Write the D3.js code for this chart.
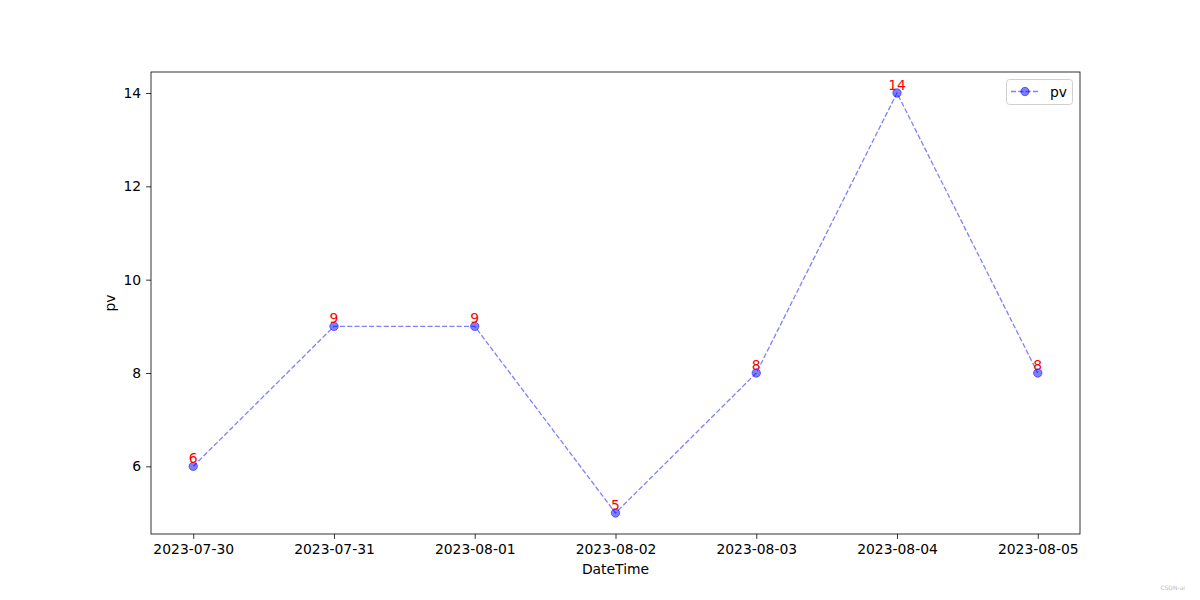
<!DOCTYPE html>
<html><head><meta charset="utf-8">
<script src="https://cdn.jsdelivr.net/npm/d3@7/dist/d3.min.js"></script>
<style>body{margin:0;background:#fff}svg{display:block}text{font-family:"DejaVu Sans",sans-serif}</style>
</head><body>
<svg id="c" width="1200" height="600"></svg>
<script>
const dates = ["2023-07-30","2023-07-31","2023-08-01","2023-08-02","2023-08-03","2023-08-04","2023-08-05"];
const pv = [6, 9, 9, 5, 8, 14, 8];
const yTicks = [6, 8, 10, 12, 14];
const seriesName = "pv";

const svg = d3.select("#c");
const L = 151, R = 1080, T = 72, B = 534;
const parse = d3.utcParse("%Y-%m-%d");
const xs = dates.map(parse);
const x0 = xs[0], x1 = xs[xs.length-1];
const span = x1 - x0;
const x = d3.scaleUtc().domain([new Date(+x0 - span*0.05), new Date(+x1 + span*0.05)]).range([L, R]);
const ymin = d3.min(pv), ymax = d3.max(pv), yr = ymax - ymin;
const y = d3.scaleLinear().domain([ymin - yr*0.05, ymax + yr*0.05]).range([B, T]);
const fs = 13.9;

// axes
const xa = svg.append("g").attr("transform", `translate(0,${B})`)
  .call(d3.axisBottom(x).tickValues(xs).tickFormat(d3.utcFormat("%Y-%m-%d")).tickSize(4.9).tickPadding(4.9).tickSizeOuter(0));
const ya = svg.append("g").attr("transform", `translate(${L},0)`)
  .call(d3.axisLeft(y).tickValues(yTicks).tickFormat(d3.format("d")).tickSize(4.9).tickPadding(4.9).tickSizeOuter(0));
[xa, ya].forEach(g => {
  g.select(".domain").remove();
  g.selectAll("line").attr("stroke", "#000").attr("stroke-width", 0.8);
  g.selectAll("text").attr("font-size", fs).attr("fill", "#000").style("font-family", "DejaVu Sans");
});

svg.append("rect").attr("x", L).attr("y", T).attr("width", R-L).attr("height", B-T)
  .attr("fill", "none").attr("stroke", "#000").attr("stroke-width", 0.8);

// line
const line = d3.line().x((d,i) => x(xs[i])).y(d => y(d));
svg.append("path").datum(pv).attr("d", line).attr("fill", "none")
  .attr("stroke", "blue").attr("stroke-opacity", 0.5).attr("stroke-width", 1.3)
  .attr("stroke-dasharray", "5.1,2.2");
svg.selectAll("circle.pt").data(pv).enter().append("circle").attr("class","pt")
  .attr("cx", (d,i) => x(xs[i])).attr("cy", d => y(d)).attr("r", 4.2)
  .attr("fill", "blue").attr("fill-opacity", 0.5)
  .attr("stroke", "blue").attr("stroke-opacity", 0.5).attr("stroke-width", 1);

// value labels
svg.selectAll("text.lbl").data(pv).enter().append("text").attr("class","lbl")
  .attr("x", (d,i) => x(xs[i])).attr("y", d => y(d) - 3)
  .attr("text-anchor", "middle").attr("font-size", fs).attr("fill", "red").text(d => d);

// axis labels
svg.append("text").attr("x", (L+R)/2).attr("y", 574).attr("text-anchor", "middle")
  .attr("font-size", fs).text("DateTime");
svg.append("text").attr("transform", `translate(115,${(T+B)/2}) rotate(-90)`).attr("text-anchor", "middle")
  .attr("font-size", fs).text("pv");

// legend
const lg = svg.append("g");
lg.append("rect").attr("x", 1006.5).attr("y", 79.5).attr("width", 66).attr("height", 25).attr("rx", 3)
  .attr("fill", "#fff").attr("fill-opacity", 0.8).attr("stroke", "#d0d0d0").attr("stroke-width", 1);
lg.append("line").attr("x1", 1011).attr("x2", 1039).attr("y1", 91.5).attr("y2", 91.5)
  .attr("stroke", "blue").attr("stroke-opacity", 0.5).attr("stroke-width", 1.3).attr("stroke-dasharray", "5.1,2.2");
lg.append("circle").attr("cx", 1025).attr("cy", 91.5).attr("r", 4.2)
  .attr("fill", "blue").attr("fill-opacity", 0.5).attr("stroke", "blue").attr("stroke-opacity", 0.5);
lg.append("text").attr("x", 1050).attr("y", 96.5).attr("font-size", fs).text(seriesName);

// watermark
svg.append("text").attr("x", 1185).attr("y", 590).attr("text-anchor", "end")
  .attr("font-size", 6).attr("fill", "#bbb").text("CSDN-ai");
</script>
</body></html>
